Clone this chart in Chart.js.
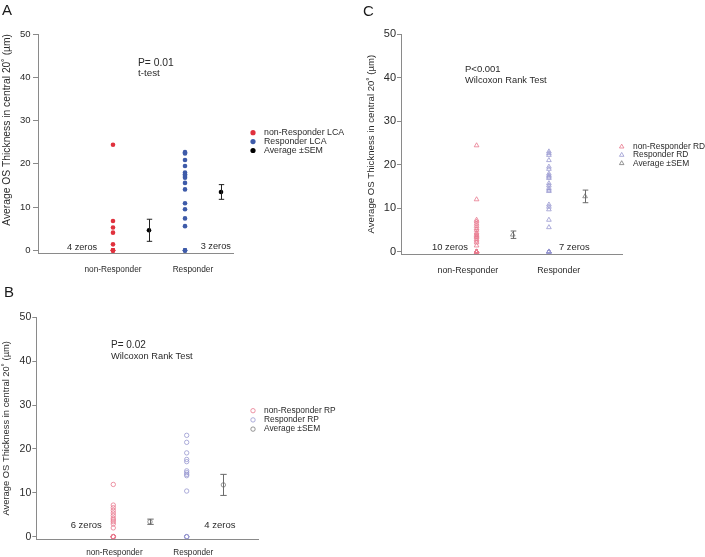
<!DOCTYPE html>
<html><head><meta charset="utf-8">
<script src="https://cdn.jsdelivr.net/npm/chart.js@4.4.0/dist/chart.umd.min.js"></script>
<style>
html,body{margin:0;padding:0;background:#fff;width:705px;height:557px;overflow:hidden;}
canvas{position:absolute;}
</style></head><body>
<canvas id="cA" width="350" height="280" style="left:0;top:0"></canvas>
<canvas id="cC" width="355" height="280" style="left:350px;top:0"></canvas>
<canvas id="cB" width="350" height="277" style="left:0;top:280px"></canvas>
<script>
const FONT = '"Liberation Sans", Arial, Helvetica, sans-serif';
const categories = ['non-Responder', 'Responder'];
const yTickValues = [0, 10, 20, 30, 40, 50];
const yAxisTitle = 'Average OS Thickness in central 20˚ (µm)';
const legendAverage = 'Average \u00B1SEM';

// Panel A – LCA
const lcaNonResponder = [24.4, 6.8, 5.3, 4.1, 1.4, 0, 0, 0, 0];
const lcaResponder = [22.7, 22.4, 20.9, 19.5, 18.0, 17.6, 17.2, 16.8, 15.6, 14.1, 10.9, 9.5, 7.4, 5.6, 0, 0, 0];
const lcaMean = [4.65, 13.5];
const lcaSem = [2.55, 1.7];
// Panel B – RP
const rpNonResponder = [11.9, 7.2, 6.6, 6.0, 5.4, 4.8, 4.2, 3.8, 3.4, 2.9, 2.0, 0, 0, 0, 0, 0, 0];
const rpResponder = [23.1, 21.5, 19.1, 17.6, 17.1, 15.0, 14.6, 14.2, 13.9, 10.4, 0, 0, 0, 0];
const rpMean = [3.4, 11.8];
const rpSem = [0.6, 2.4];
// Panel C – RD
const rdNonResponder = [24.4, 12.0, 7.3, 6.9, 6.4, 5.9, 5.4, 5.0, 4.4, 4.1, 3.8, 3.5, 3.3, 2.9, 2.5, 2.1, 1.4, 0, 0, 0, 0, 0, 0, 0, 0, 0, 0];
const rdResponder = [23.0, 22.6, 22.2, 21.0, 19.5, 19.0, 17.9, 17.5, 17.2, 16.9, 15.7, 15.2, 14.6, 14.2, 13.9, 10.8, 10.3, 9.7, 7.3, 5.6, 0, 0, 0, 0, 0, 0, 0];
const rdMean = [3.9, 12.7];
const rdSem = [0.85, 1.45];

// group positions along the x axis
const xNonResp = 1, xNonRespMean = 2, xResp = 3, xRespMean = 4;

const axisColor = '#8a8a8a';
const textColor = '#2a2a2a';

const extras = {
  id: 'extras',
  afterDatasetsDraw(chart, args, o) {
    const ctx = chart.ctx, ys = chart.scales.y;
    chart.data.datasets.forEach((ds, i) => {
      if (!ds.sem) return;
      const meta = chart.getDatasetMeta(i);
      meta.data.forEach((el, j) => {
        const v = ds.data[j].y, s = ds.sem[j];
        const x = Math.round(el.x) + 0.5;
        const y1 = ys.getPixelForValue(v + s), y2 = ys.getPixelForValue(v - s);
        ctx.save();
        ctx.strokeStyle = ds.errorColor; ctx.lineWidth = 1;
        ctx.beginPath();
        ctx.moveTo(x, y1); ctx.lineTo(x, y2);
        ctx.moveTo(x - o.cap, y1); ctx.lineTo(x + o.cap, y1);
        ctx.moveTo(x - o.cap, y2); ctx.lineTo(x + o.cap, y2);
        ctx.stroke();
        ctx.restore();
      });
    });
  },
  afterDraw(chart, args, o) {
    const ctx = chart.ctx;
    const L = o.legend;
    chart.data.datasets.forEach((ds, i) => {
      const y = L.y + i * L.dy;
      ctx.save();
      ctx.fillStyle = ds.backgroundColor;
      ctx.strokeStyle = ds.borderColor;
      ctx.lineWidth = ds.borderWidth;
      Chart.helpers.drawPoint(ctx, {pointStyle: ds.pointStyle, radius: L.r, borderWidth: ds.borderWidth, rotation: 0}, L.x, y);
      ctx.fillStyle = textColor;
      ctx.font = L.size + 'px ' + FONT;
      ctx.textBaseline = 'middle';
      ctx.textAlign = 'left';
      ctx.fillText(ds.label, L.x + L.gap, y);
      ctx.restore();
    });
    o.texts.forEach(t => {
      ctx.save();
      ctx.fillStyle = t.color || textColor;
      ctx.font = t.size + 'px ' + FONT;
      ctx.textBaseline = t.baseline || 'middle';
      ctx.textAlign = 'left';
      ctx.fillText(t.text, t.x, t.y);
      ctx.restore();
    });
  }
};

function makePanel(id, p) {
  const canvas = document.getElementById(id);
  const W = canvas.width, H = canvas.height;
  const g = p.geom;
  return new Chart(canvas, {
    type: 'scatter',
    plugins: [extras],
    data: {
      datasets: [
        {label: p.names[0], data: p.nonResp.map(v => ({x: xNonResp, y: v})),
         pointStyle: p.style, pointRadius: p.r, backgroundColor: p.fill[0], borderColor: p.stroke[0], borderWidth: p.bw},
        {label: p.names[1], data: p.resp.map(v => ({x: xResp, y: v})),
         pointStyle: p.style, pointRadius: p.r, backgroundColor: p.fill[1], borderColor: p.stroke[1], borderWidth: p.bw},
        {label: legendAverage, data: p.mean.map((v, i) => ({x: [xNonRespMean, xRespMean][i], y: v})),
         sem: p.sem, errorColor: p.errColor,
         pointStyle: p.style, pointRadius: p.r, backgroundColor: p.fill[2], borderColor: p.stroke[2], borderWidth: p.bw}
      ]
    },
    options: {
      responsive: false, animation: false, events: [], devicePixelRatio: 1,
      layout: {padding: {left: 0, top: g.top, right: W - g.right, bottom: 0}},
      plugins: {
        legend: {display: false}, tooltip: {enabled: false},
        extras: {cap: p.cap, legend: p.legend, texts: p.texts}
      },
      scales: {
        x: {
          type: 'linear', min: p.xmin, max: p.xmax,
          afterBuildTicks: s => { s.ticks = p.labelPos.map(v => ({value: v})); },
          afterFit: s => { s.height = H - g.bottom; },
          grid: {display: true, drawOnChartArea: false, drawTicks: false},
          border: {display: true, color: axisColor, width: 1},
          ticks: {autoSkip: false, maxRotation: 0, padding: p.xPad, color: textColor,
                  font: {family: FONT, size: p.xFont, lineHeight: 1.2},
                  callback: (v, i) => categories[i]}
        },
        y: {
          type: 'linear', min: -0.6, max: 50,
          afterBuildTicks: s => { s.ticks = yTickValues.map(v => ({value: v})); },
          afterFit: s => { s.width = g.left; },
          grid: {display: true, drawOnChartArea: false, drawTicks: true, tickLength: p.tl, color: axisColor, lineWidth: 1},
          border: {display: true, color: axisColor, width: 1},
          ticks: {padding: p.yPad, color: textColor, font: {family: FONT, size: p.yFont}},
          title: {display: true, text: yAxisTitle, color: textColor, align: p.titleAlign,
                  font: {family: FONT, size: p.titleFont, lineHeight: 1.2},
                  padding: {top: p.titlePad, bottom: 0}}
        }
      }
    }
  });
}

const pink = '#e8788e', lav = '#9898d0', gray = '#7a7a7a';

makePanel('cA', {
  geom: {left: 38, right: 233, top: 34, bottom: 253},
  names: ['non-Responder LCA', 'Responder LCA'],
  nonResp: lcaNonResponder, resp: lcaResponder, mean: lcaMean, sem: lcaSem,
  style: 'circle', r: 2.3, bw: 0,
  fill: ['#e0313d', '#3e5ba9', '#000000'], stroke: ['#e0313d', '#3e5ba9', '#000000'],
  errColor: '#222', cap: 2.7,
  xmin: -1.083, xmax: 4.333, labelPos: [1.0, 3.22],
  xPad: 12, xFont: 8.3, yFont: 9.5, yPad: 2.5, tl: 5,
  titleAlign: 'end', titleFont: 10.3, titlePad: 1,
  legend: {x: 253, y: 132.7, dy: 8.9, r: 2.6, gap: 11, size: 8.8},
  texts: [
    {text: 'A', x: 2, y: 15, size: 15, baseline: 'alphabetic', color: '#1a1a1a'},
    {text: 'P= 0.01', x: 138, y: 62.7, size: 10.3},
    {text: 't-test', x: 138, y: 73.3, size: 9.8},
    {text: '4 zeros', x: 67, y: 247, size: 9.2},
    {text: '3 zeros', x: 200.7, y: 246, size: 9.2}
  ]
});

makePanel('cB', {
  geom: {left: 36.7, right: 258, top: 37.3, bottom: 259.3},
  names: ['non-Responder RP', 'Responder RP'],
  nonResp: rpNonResponder, resp: rpResponder, mean: rpMean, sem: rpSem,
  style: 'circle', r: 2.2, bw: 0.8,
  fill: ['rgba(0,0,0,0)', 'rgba(0,0,0,0)', 'rgba(0,0,0,0)'], stroke: [pink, lav, gray],
  errColor: '#6a6a6a', cap: 3.2,
  xmin: -1.087, xmax: 4.943, labelPos: [1.03, 3.18],
  xPad: 8.5, xFont: 8.2, yFont: 10.5, yPad: 1, tl: 4.4,
  titleAlign: 'center', titleFont: 9.4, titlePad: 1,
  legend: {x: 253, y: 130.7, dy: 9.2, r: 2.2, gap: 11, size: 8.4},
  texts: [
    {text: 'B', x: 4, y: 17, size: 15, baseline: 'alphabetic', color: '#1a1a1a'},
    {text: 'P= 0.02', x: 111, y: 65, size: 10},
    {text: 'Wilcoxon Rank Test', x: 111, y: 76.3, size: 9.3},
    {text: '6 zeros', x: 70.7, y: 245.7, size: 9.5},
    {text: '4 zeros', x: 204.3, y: 245.7, size: 9.5}
  ]
});

makePanel('cC', {
  geom: {left: 51, right: 272.7, top: 34, bottom: 254.3},
  names: ['non-Responder RD', 'Responder RD'],
  nonResp: rdNonResponder, resp: rdResponder, mean: rdMean, sem: rdSem,
  style: 'triangle', r: 2.7, bw: 0.8,
  fill: ['rgba(0,0,0,0)', 'rgba(0,0,0,0)', 'rgba(0,0,0,0)'], stroke: [pink, lav, gray],
  errColor: '#6a6a6a', cap: 2.8,
  xmin: -1.09, xmax: 5.04, labelPos: [0.76, 3.27],
  xPad: 10.5, xFont: 8.8, yFont: 11, yPad: 1, tl: 4,
  titleAlign: 'center', titleFont: 9.6, titlePad: 16,
  legend: {x: 271.7, y: 146.7, dy: 8.3, r: 2.6, gap: 11.3, size: 8.4},
  texts: [
    {text: 'C', x: 13, y: 16, size: 15, baseline: 'alphabetic', color: '#1a1a1a'},
    {text: 'P<0.001', x: 115, y: 69, size: 9.5},
    {text: 'Wilcoxon Rank Test', x: 115, y: 80.3, size: 9.3},
    {text: '10 zeros', x: 82, y: 247, size: 9.4},
    {text: '7 zeros', x: 209, y: 247, size: 9.4}
  ]
});
</script>
</body></html>
